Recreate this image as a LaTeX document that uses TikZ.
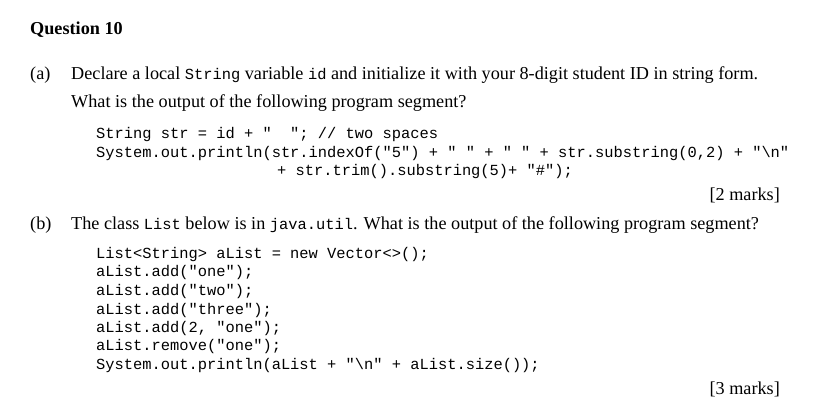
\documentclass[tikz,border=0pt]{standalone}
\usepackage{fontspec}
\setmainfont{Liberation Serif}
\setmonofont{Liberation Mono}
\begin{document}
\begin{tikzpicture}[x=1pt,y=-1pt,
  txt/.style={anchor=base west,inner sep=0pt,font=\fontsize{18.2}{20}\selectfont},
  code/.style={anchor=base west,inner sep=0pt,font=\fontsize{15.4}{18}\ttfamily},
  mk/.style={anchor=base east,inner sep=0pt,font=\fontsize{18.2}{20}\selectfont}]
\newcommand{\ct}[1]{{\fontsize{15.4}{18}\ttfamily #1}}
\useasboundingbox[fill=white] (0,0) rectangle (829,411);
\node[txt,font=\fontsize{18.2}{20}\bfseries] (q) at (30,35) {Question 10};
\node[txt] (a) at (30,80) {(a)};
\node[txt] (a1) at (71,80) {Declare a local \ct{String} variable \ct{id} and initialize it with your 8-digit student ID in string form.};
\node[txt] (a2) at (71,108) {What is the output of the following program segment?};
\node[code] (c1) at (96,139) {String str = id + "~~"; // two spaces};
\node[code] (c2) at (96,158) {System.out.println(str.indexOf("5") + "~" + "~" + str.substring(0,2) + "\textbackslash n"};
\node[code] (c3) at (277,176) {+ str.trim().substring(5)+ "\#");};
\node[mk] (m2) at (780,201) {[2 marks]};
\node[txt] (b) at (30,230) {(b)};
\node[txt] (b1) at (71,230) {The class \ct{List} below is in \ct{java.util}. What is the output of the following program segment?};
\node[code] (d1) at (96,259) {List<String> aList = new Vector<>();};
\node[code] (d2) at (96,277) {aList.add("one");};
\node[code] (d3) at (96,295) {aList.add("two");};
\node[code] (d4) at (96,314) {aList.add("three");};
\node[code] (d5) at (96,332) {aList.add(2, "one");};
\node[code] (d6) at (96,350) {aList.remove("one");};
\node[code] (d7) at (96,369) {System.out.println(aList + "\textbackslash n" + aList.size());};
\node[mk] (m3) at (780,394) {[3 marks]};
\end{tikzpicture}
\end{document}
